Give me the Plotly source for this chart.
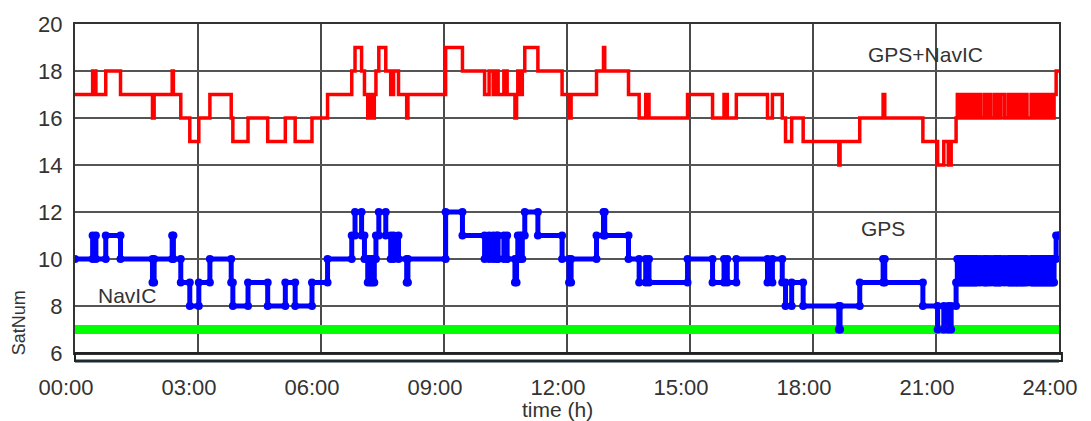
import plotly.graph_objects as go

# ---- data ----
# times (h) at which the satellite count changes
change_hours = [
    0.00, 0.43, 0.51, 0.75, 1.11, 1.89, 1.93, 2.37, 2.40, 2.58, 2.80, 3.02, 3.29, 3.81, 3.85,
    4.22, 4.70, 5.13, 5.37, 5.78, 6.16, 6.75, 6.83, 6.99, 7.06, 7.14, 7.20, 7.25, 7.30, 7.34,
    7.41, 7.58, 7.70, 7.77, 7.89, 8.09, 8.12, 9.04, 9.45, 9.99, 10.10, 10.20, 10.28, 10.32,
    10.46, 10.54, 10.73, 10.77, 10.80, 10.86, 10.91, 10.97, 11.29, 11.88, 12.05, 12.10, 12.72,
    12.89, 12.92, 13.50, 13.76, 13.92, 14.00, 14.94, 15.55, 15.83, 15.91, 16.13, 16.89, 17.01,
    17.25, 17.33, 17.48, 17.76, 18.63, 18.66, 19.14, 19.71, 19.75, 20.68, 21.04, 21.19, 21.30,
    21.37, 21.49, 21.52, 21.56, 21.60, 21.64, 21.68, 21.72, 21.76, 21.80, 21.84, 21.88, 21.92,
    21.96, 22.00, 22.08, 22.17, 22.21, 22.25, 22.33, 22.42, 22.46, 22.50, 22.54, 22.58, 22.67,
    22.76, 22.80, 22.84, 22.88, 22.92, 22.96, 23.00, 23.04, 23.08, 23.12, 23.16, 23.22, 23.32,
    23.36, 23.40, 23.44, 23.48, 23.52, 23.56, 23.60, 23.64, 23.68, 23.72, 23.76, 23.80, 23.84,
    23.88, 23.93, 24.00,
]
gps_sats = [
    10, 11, 10, 11, 10, 9, 10, 11, 10, 9, 8, 9, 10, 9, 8,
    9, 8, 9, 8, 9, 10, 11, 12, 11, 10, 9, 10, 9, 10, 11,
    12, 11, 10, 11, 10, 9, 10, 12, 11, 10, 11, 10, 11, 10,
    11, 10, 9, 10, 11, 10, 11, 12, 11, 10, 9, 10, 11,
    12, 11, 10, 9, 10, 9, 10, 9, 10, 9, 10, 9, 10,
    9, 8, 9, 8, 7, 8, 9, 10, 9, 8, 7, 8, 7,
    8, 9, 10, 9, 10, 9, 10, 9, 10, 9, 10, 9, 10,
    9, 10, 9, 10, 9, 10, 9, 10, 9, 10, 9, 10, 9,
    10, 9, 10, 9, 10, 9, 10, 9, 10, 9, 10, 9, 10,
    9, 10, 9, 10, 9, 10, 9, 10, 9, 10, 9, 10, 9,
    10, 11, 11,
]
gps_navic_sats = [
    17, 18, 17, 18, 17, 16, 17, 18, 17, 16, 15, 16, 17, 16, 15,
    16, 15, 16, 15, 16, 17, 18, 19, 18, 17, 16, 17, 16, 17, 18,
    19, 18, 17, 18, 17, 16, 17, 19, 18, 17, 18, 17, 18, 17,
    18, 17, 16, 17, 18, 17, 18, 19, 18, 17, 16, 17, 18,
    19, 18, 17, 16, 17, 16, 17, 16, 17, 16, 17, 16, 17,
    16, 15, 16, 15, 14, 15, 16, 17, 16, 15, 14, 15, 14,
    15, 16, 17, 16, 17, 16, 17, 16, 17, 16, 17, 16, 17,
    16, 17, 16, 17, 16, 17, 16, 17, 16, 17, 16, 17, 16,
    17, 16, 17, 16, 17, 16, 17, 16, 17, 16, 17, 16, 17,
    16, 17, 16, 17, 16, 17, 16, 17, 16, 17, 16, 17, 16,
    17, 18, 18,
]
navic_hours = [0, 24]
navic_sats = [7, 7]

x_tick_vals = [0, 3, 6, 9, 12, 15, 18, 21, 24]
x_tick_text = ["00:00", "03:00", "06:00", "09:00", "12:00", "15:00", "18:00", "21:00", "24:00"]
y_tick_vals = [6, 8, 10, 12, 14, 16, 18, 20]


def step_vertices(t, v):
    xs, ys = [t[0]], [v[0]]
    for i in range(1, len(t)):
        xs += [t[i], t[i]]
        ys += [v[i - 1], v[i]]
    return xs, ys


gx, gy = step_vertices(change_hours, gps_sats)
cx, cy = step_vertices(change_hours, gps_navic_sats)

fig = go.Figure()
fig.add_trace(go.Scatter(x=navic_hours, y=navic_sats, mode="lines",
                         line=dict(color="#00ff00", width=9), name="NavIC"))
fig.add_trace(go.Scatter(x=gx, y=gy, mode="lines+markers",
                         line=dict(color="#0000ff", width=5),
                         marker=dict(color="#0000ff", size=8), name="GPS"))
fig.add_trace(go.Scatter(x=cx, y=cy, mode="lines",
                         line=dict(color="#ff0000", width=3.5), name="GPS+NavIC"))

font_main = "Liberation Sans, Arial, sans-serif"
txt_col = "#333333"


def label(text, x, y, size=21, angle=0):
    return dict(text=text, x=x, y=y, xref="paper", yref="paper", showarrow=False,
                xanchor="center", yanchor="middle", textangle=angle,
                font=dict(size=size, color=txt_col))


fig.update_layout(
    width=1091, height=421,
    margin=dict(l=75, r=32, t=19, b=68),
    paper_bgcolor="white", plot_bgcolor="white",
    showlegend=False,
    font=dict(family=font_main, color=txt_col),
    xaxis=dict(range=[0, 24], tickvals=x_tick_vals, ticktext=x_tick_text,
               showgrid=True, gridcolor="#4a4a4a", gridwidth=1.5,
               showline=True, mirror=True, linecolor="#333333", linewidth=2,
               ticks="", ticklabelstandoff=14, ticklabelshift=-9,
               tickfont=dict(size=22, color=txt_col), zeroline=False),
    yaxis=dict(range=[6, 20], tickvals=y_tick_vals,
               showgrid=True, gridcolor="#555555", gridwidth=1.5,
               showline=True, mirror=True, linecolor="#333333", linewidth=2,
               ticks="", ticklabelstandoff=6,
               tickfont=dict(size=22, color=txt_col), zeroline=False),
    annotations=[
        label("GPS+NavIC", 0.864, 0.907),
        label("GPS", 0.821, 0.377),
        label("NavIC", 0.053, 0.174),
        label("time (h)", 0.49, -0.171),
        label("SatNum", -0.057, 0.093, size=18, angle=-90),
    ],
    shapes=[
        dict(type="rect", xref="paper", yref="paper", x0=0, x1=1.003, y0=-0.024, y1=0,
             line=dict(color="#222222", width=2)),
        dict(type="line", xref="paper", yref="paper", x0=0, x1=1.0, y0=-0.024, y1=-0.024,
             line=dict(color="#1a2a30", width=3)),
    ],
)

fig.write_html("out.html")
